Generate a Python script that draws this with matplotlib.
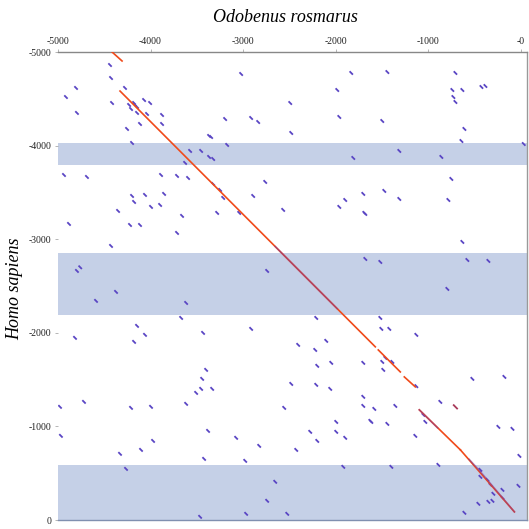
import numpy as np
import matplotlib.pyplot as plt

plt.rcParams['font.family'] = ['Liberation Serif', 'DejaVu Serif']

# shaded regions on the Homo sapiens axis (start, end)
band_start = [-4025, -2850, -590]
band_end = [-3790, -2185, 0]

# main (red) alignment pieces
red_x0 = [-4416, -4330, -1541, -1260, -1098, -654]
red_y0 = [-5000, -4583, -1817, -1529, -1177, -749]
red_x1 = [-4308, -1573, -1303, -1141, -654, -71]
red_y1 = [-4904, -1850, -1582, -1422, -749, -87]

# parts of the main alignment also hit on the other strand
mix_x0 = [-2654, -1098, -560, -440]
mix_y0 = [-2922, -1177, -649, -520]
mix_x1 = [-1984, -900, -440, -71]
mix_y1 = [-2257, -984, -520, -87]

# short blue hits (centres)
hit_x = [-4438, -4427, -4805, -4276, -4914, -4416, -4232, -4211, -4168, -4146,
         -4178, -4070, -4005, -4146, -4038, -3876, -4795, -4114, -3876, -4254,
         -3368, -4200, -3573, -3454, -3368, -3324, -3627, -4935, -4687, -3887,
         -3714, -3595, -3324, -4200, -4060, -3854, -4178, -3995, -3897, -4351,
         -3660, -4881, -4222, -4114, -3714, -4427, -4795, -4760,
         -3022, -1833, -1984, -2492, -3195, -2914, -2838, -1962, -3346, -2481,
         -3173, -1811, -2762, -3249, -3216, -3043, -2892, -3281, -2568, -1703,
         -1898, -1962, -1692, -1681, -2741,
         -1443, -708, -741, -633, -427, -384, -730, -708, -1498, -611,
         -643, 30, -1314, -860, -752, -1476, -1314, -784, -1681, -633,
         -1519, -579, -352, -795,
         -4373, -4589, -3616, -3670, -4146, -4060, -3433, -4816, -4178, -3400,
         -3443, -3454, -3508, -3335, -4719, -4978, -4211, -3995, -3616, -3379,
         -4968, -3973, -4103, -4330, -3422, -4265, -3465,
         -2211, -2914, -2406, -2103, -2222, -2049, -1703, -2200, -2481, -2211,
         -2060, -1703, -1703, -2557, -1995, -1627, -2276, -1995, -1898, -2200,
         -3076, -2827, -2427, -2978, -1919, -2654, -2741, -2968, -2524,
         -1519, -1508, -1422, -1130, -1465, -1389, -1498, -1487, -525, -179,
         -871, -1357, -1584, -1616, -1443, -1141, -1054, -1033, -244, -92,
         -17, -1400, -892, -438, -438, -362, -330, -298, -200, -27,
         -460, -352, -308, -611, -200, -1130]
hit_y = [-4861, -4722, -4616, -4616, -4519, -4455, -4434, -4391, -4434, -4413,
         -4455, -4487, -4455, -4349, -4338, -4327, -4349, -4231, -4231, -4178,
         -4103, -4028, -3943, -3943, -3879, -3857, -3815, -3686, -3665, -3686,
         -3676, -3654, -3590, -3462, -3473, -3484, -3398, -3345, -3366, -3302,
         -3249, -3163, -3152, -3152, -3067, -2928, -2661, -2700,
         -4765, -4776, -4594, -4455, -4284, -4295, -4252, -4306, -4092, -4135,
         -4007, -3868, -3612, -3526, -3441, -3281, -3462, -3281, -3313, -3484,
         -3419, -3345, -3281, -2789, -2661,
         -4786, -4776, -4594, -4594, -4626, -4637, -4519, -4466, -4263, -4178,
         -4049, -4017, -3943, -3879, -3644, -3516, -3430, -3419, -3270, -2971,
         -2757, -2778, -2768, -2469,
         -2437, -2341, -2319, -2159, -2074, -1978, -1999, -1946, -1903, -1604,
         -1508, -1401, -1358, -1401, -1262, -1209, -1198, -1209, -1241, -952,
         -899, -845, -749, -707, -653, -546, -34,
         -2159, -2042, -1871, -1914, -1817, -1679, -1679, -1647, -1454, -1444,
         -1401, -1316, -1219, -1198, -1048, -1059, -942, -942, -878, -845,
         -878, -792, -749, -632, -568, -408, -205, -66, -66,
         -2159, -2042, -2042, -1978, -1732, -1689, -1689, -1604, -1508, -1529,
         -1262, -1219, -1187, -1048, -1027, -899, -1123, -1048, -995, -974,
         -685, -568, -589, -536, -461, -429, -376, -280, -322, -365,
         -173, -194, -205, -77, -237, -1430]

# odd short hit near the second diagonal
brown_x = [-708]
brown_y = [-1209]

hx = np.array(hit_x)
hy = np.array(hit_y)
d = 18

fig = plt.figure(figsize=(5.29, 5.29), dpi=100)
ax = fig.add_axes([0.1096, 0.017, 0.8866, 0.8847])

for b0, b1 in zip(band_start, band_end):
    ax.axhspan(b0, b1, color='#c5d0e7', lw=0, zorder=0)

for x0, y0, x1, y1 in zip(red_x0, red_y0, red_x1, red_y1):
    ax.plot([x0, x1], [y0, y1], color='#f04a1a', lw=1.2, zorder=3)

for x0, y0, x1, y1 in zip(mix_x0, mix_y0, mix_x1, mix_y1):
    ax.plot([x0, x1], [y0, y1], color='#7a3aa0', lw=1.2, alpha=0.5, zorder=4)

for x, y in zip(hx, hy):
    ax.plot([x - d, x + d], [y - d, y + d], color='#5a46c4', lw=1.3,
            solid_capstyle='butt', zorder=2)

for x, y in zip(brown_x, brown_y):
    ax.plot([x - d, x + d], [y - d, y + d], color='#a83a5a', lw=1.3, zorder=2)

ax.set_xlim(-5000, 65)
ax.set_ylim(0, -5000)

ax.xaxis.tick_top()
ax.set_xticks([-5000, -4000, -3000, -2000, -1000, 0])
ax.set_xticklabels(['-5000', '-4000', '-3000', '-2000', '-1000', '-0'])
ax.set_yticks([-5000, -4000, -3000, -2000, -1000, 0])
ax.set_yticklabels(['-5000', '-4000', '-3000', '-2000', '-1000', '0'])
ax.tick_params(axis='both', labelsize=7, length=2.5, width=0.6,
               color='#aaaaaa', pad=2, labelcolor='#222222')

ax.spines['left'].set_visible(False)
ax.spines['top'].set_color('#888888')
ax.spines['right'].set_color('#999999')
ax.spines['bottom'].set_color('#8090b0')
for s in ['top', 'right', 'bottom']:
    ax.spines[s].set_linewidth(1.0)

fig.text(0.54, 0.966, 'Odobenus rosmarus', ha='center', va='center',
         fontsize=13, style='italic')
fig.text(0.028, 0.455, 'Homo sapiens', ha='center', va='center',
         fontsize=13, style='italic', rotation=90)

fig.savefig('out.png', dpi=100)
